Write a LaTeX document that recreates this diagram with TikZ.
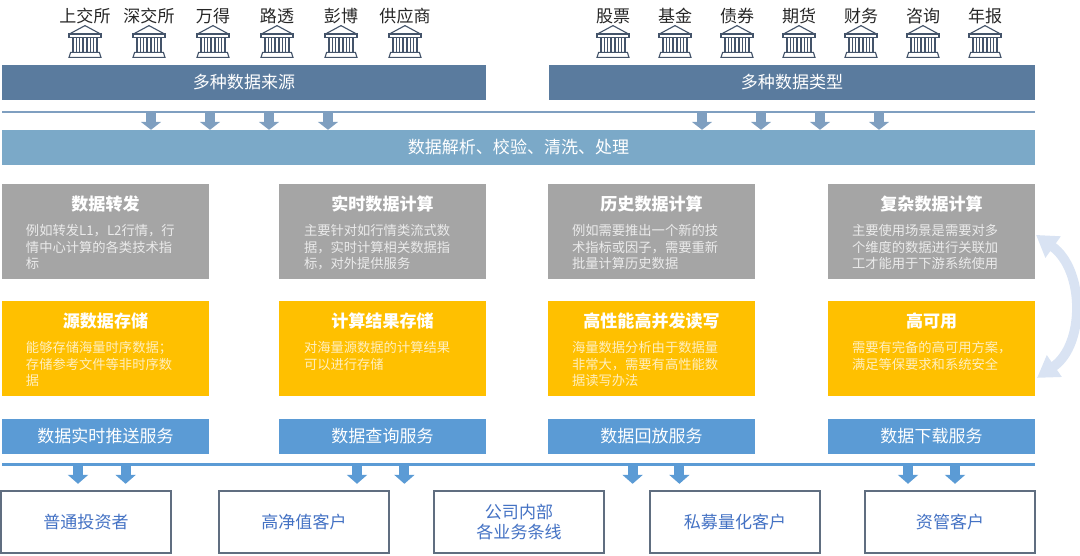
\documentclass[tikz,border=0pt]{standalone}
\usepackage{fontspec}
\setmainfont{Noto Sans CJK SC}
\definecolor{Steel}{HTML}{5A7B9E}
\definecolor{Haze}{HTML}{7BA9C8}
\definecolor{Wire}{HTML}{7F9FC0}
\definecolor{Ash}{HTML}{A5A5A5}
\definecolor{Amber}{HTML}{FFC000}
\definecolor{Azure}{HTML}{5B9BD5}
\definecolor{Mist}{HTML}{D9E3F3}
\definecolor{Ink}{HTML}{44546A}
\definecolor{Royal}{HTML}{4472C4}
\usetikzlibrary{arrows.meta,positioning}

\begin{document}
\begin{tikzpicture}[
  x=1mm,y=1mm,
  every node/.style={inner sep=0pt,outer sep=0pt},
  big/.style={font=\fontsize{12.1pt}{14pt}\selectfont},
  venue/.style={big,text=black!85,minimum width=14mm,text height=3.4mm,text depth=.85mm},
  bar/.style={big,text=white,fill=Steel,minimum height=8.75mm},
  busline/.style={minimum width=258.25mm,minimum height=.65mm},
  band/.style={big,text=white,fill=Haze,minimum width=258.25mm,minimum height=8.75mm},
  ashbox/.style={fill=Ash,minimum width=51.75mm,minimum height=23.75mm},
  amberbox/.style={fill=Amber,minimum width=51.75mm,minimum height=23.75mm},
  service/.style={big,text=white,fill=Azure,minimum width=51.75mm,minimum height=8.75mm},
  client/.style={big,text=Royal,draw=Ink!85,line width=.35mm,fill=white,minimum width=42.5mm,
    minimum height=15.5mm,align=center},
  boxhead/.style={big,font=\fontsize{12.1pt}{14pt}\selectfont\bfseries,text=white,text height=3.4mm,text depth=.85mm},
  boxtext/.style={font=\fontsize{9.45pt}{11.74pt}\selectfont,align=left},
  ashtext/.style={boxtext,text=white!78!Ash},
  ambertext/.style={boxtext,text=white!75!Amber},
  wirearrow/.style={-{Triangle[width=5mm,length=2mm]},line width=2.5mm,draw=Wire},
  azurearrow/.style={-{Triangle[width=5mm,length=2.25mm]},line width=2.5mm,draw=Azure,shorten >=1.75mm},
  swing/.style={{Triangle[width=6.25mm,length=5.25mm]}-{Triangle[width=6.25mm,length=5.25mm]},line width=2.4mm,draw=Mist},
  bank/.pic={
    \begin{scope}[draw=Ink,line width=.28mm]
    \draw (-3.9,-2.1) -- (0,0) -- (3.9,-2.1);
    \draw (-4,-2.1) rectangle (4,-2.9);
    \draw (-3,-2.9) rectangle (-2.2,-6.7);
    \draw (-1.3,-2.9) rectangle (-.5,-6.7);
    \draw (.5,-2.9) rectangle (1.3,-6.7);
    \draw (2.2,-2.9) rectangle (3,-6.7);
    \draw (-3.6,-6.7) -- (-4,-7.95) -- (4,-7.95) -- (3.6,-6.7) -- cycle;
    \end{scope}
  }
]
\useasboundingbox (0,0) rectangle (270,-138.75);

\node[bar,minimum width=121mm,anchor=north west] (srcbar) at (.5,-16.25) {多种数据来源};
\node[bar,minimum width=121.5mm,right=15.75mm of srcbar] (typebar) {多种数据类型};

% venues above the two bars
\node[venue,above right=9.85mm and 13.75mm of srcbar.north west] (sse) {上交所};
\node[venue,right=2mm of sse] (szse) {深交所};
\node[venue,right=2mm of szse] (wind) {万得};
\node[venue,right=2mm of wind] (reuters) {路透};
\node[venue,right=2mm of reuters] (bloomberg) {彭博};
\node[venue,right=2mm of bloomberg] (vendor) {供应商};
\node[venue,above right=9.85mm and 9mm of typebar.north west] (stock) {股票};
\node[venue,right=1.5mm of stock] (fund) {基金};
\node[venue,right=1.5mm of fund] (bond) {债券};
\node[venue,right=1.5mm of bond] (future) {期货};
\node[venue,right=1.5mm of future] (finance) {财务};
\node[venue,right=1.5mm of finance] (news) {咨询};
\node[venue,right=1.5mm of news] (report) {年报};

\pic at (sse.south) {bank};
\pic at (szse.south) {bank};
\pic at (wind.south) {bank};
\pic at (reuters.south) {bank};
\pic at (bloomberg.south) {bank};
\pic at (vendor.south) {bank};
\pic at (stock.south) {bank};
\pic at (fund.south) {bank};
\pic at (bond.south) {bank};
\pic at (future.south) {bank};
\pic at (finance.south) {bank};
\pic at (news.south) {bank};
\pic at (report.south) {bank};

\node[busline,fill=Wire,below right=2.7mm and 0mm of srcbar.south west] (srcbus) {};
\node[band,below=4.1mm of srcbus] (clean) {数据解析、校验、清洗、处理};

% compute row
\node[ashbox,below right=4.75mm and 0mm of clean.south west] (fwd) {};
\node[ashbox,right=17.5mm of fwd] (rtcalc) {};
\node[ashbox,right=15.5mm of rtcalc] (histcalc) {};
\node[ashbox,right=18.25mm of histcalc] (cplxcalc) {};

% storage row
\node[amberbox,below=5.5mm of fwd] (srcstore) {};
\node[amberbox,below=5.5mm of rtcalc] (resstore) {};
\node[amberbox,below=5.5mm of histcalc] (rwstore) {};
\node[amberbox,below=5.5mm of cplxcalc] (hastore) {};

\node[boxhead,below=3.2mm of fwd.north] (fwdhead) {数据转发};
\node[boxhead,below=3.2mm of rtcalc.north] (rthead) {实时数据计算};
\node[boxhead,below=3.2mm of histcalc.north] (histhead) {历史数据计算};
\node[boxhead,below=3.2mm of cplxcalc.north] (cplxhead) {复杂数据计算};
\node[boxhead,below=3.2mm of srcstore.north] (srchead) {源数据存储};
\node[boxhead,below=3.2mm of resstore.north] (reshead) {计算结果存储};
\node[boxhead,below=3.2mm of rwstore.north] (rwhead) {高性能高并发读写};
\node[boxhead,below=3.2mm of hastore.north] (hahead) {高可用};

\node[ashtext,below right=10.15mm and 6mm of fwd.north west] (fwdtext) {例如转发L1，L2行情，行\\情中心计算的各类技术指\\标};
\node[ashtext,below right=10.15mm and 6.25mm of rtcalc.north west] (rttext) {主要针对如行情类流式数\\据，实时计算相关数据指\\标，对外提供服务};
\node[ashtext,below right=10.15mm and 6mm of histcalc.north west] (histtext) {例如需要推出一个新的技\\术指标或因子，需要重新\\批量计算历史数据};
\node[ashtext,below right=10.15mm and 6mm of cplxcalc.north west] (cplxtext) {主要使用场景是需要对多\\个维度的数据进行关联加\\工才能用于下游系统使用};
\node[ambertext,below right=10.15mm and 6mm of srcstore.north west] (srctext) {能够存储海量时序数据；\\存储参考文件等非时序数\\据};
\node[ambertext,below right=10.15mm and 6.25mm of resstore.north west] (restext) {对海量源数据的计算结果\\可以进行存储};
\node[ambertext,below right=10.15mm and 6mm of rwstore.north west] (rwtext) {海量数据分析由于数据量\\非常大，需要有高性能数\\据读写办法};
\node[ambertext,below right=10.15mm and 6mm of hastore.north west] (hatext) {需要有完备的高可用方案，\\满足等保要求和系统安全};

% services and clients
\node[service,below=5.75mm of srcstore] (pushsvc) {数据实时推送服务};
\node[service,below=5.75mm of resstore] (querysvc) {数据查询服务};
\node[service,below=5.75mm of rwstore] (replaysvc) {数据回放服务};
\node[service,below=5.75mm of hastore] (downsvc) {数据下载服务};
\node[busline,fill=Azure,minimum height=.75mm,below right=2.4mm and 0mm of pushsvc.south west] (svcbus) {};

\node[client,below right=6.1mm and -.25mm of svcbus.south west] (retail) {普通投资者};
\node[client,right=12mm of retail] (hnw) {高净值客户};
\node[client,right=11.25mm of hnw] (internal) {公司内部\\各业务条线};
\node[client,right=11.5mm of internal] (quant) {私募量化客户};
\node[client,right=11.25mm of quant] (asset) {资管客户};

\draw[wirearrow] ([xshift=37.25mm]srcbus.south west) -- ([xshift=37.25mm]srcbus.south west |- clean.north);
\draw[wirearrow] ([xshift=52mm]srcbus.south west) -- ([xshift=52mm]srcbus.south west |- clean.north);
\draw[wirearrow] ([xshift=66.75mm]srcbus.south west) -- ([xshift=66.75mm]srcbus.south west |- clean.north);
\draw[wirearrow] ([xshift=81.5mm]srcbus.south west) -- ([xshift=81.5mm]srcbus.south west |- clean.north);
\draw[wirearrow] ([xshift=175mm]srcbus.south west) -- ([xshift=175mm]srcbus.south west |- clean.north);
\draw[wirearrow] ([xshift=189.75mm]srcbus.south west) -- ([xshift=189.75mm]srcbus.south west |- clean.north);
\draw[wirearrow] ([xshift=204.5mm]srcbus.south west) -- ([xshift=204.5mm]srcbus.south west |- clean.north);
\draw[wirearrow] ([xshift=219.25mm]srcbus.south west) -- ([xshift=219.25mm]srcbus.south west |- clean.north);

\draw[azurearrow] ([xshift=19mm]svcbus.south west) -- ([xshift=19mm]svcbus.south west |- retail.north);
\draw[azurearrow] ([xshift=30.9mm]svcbus.south west) -- ([xshift=30.9mm]svcbus.south west |- retail.north);
\draw[azurearrow] ([xshift=88.75mm]svcbus.south west) -- ([xshift=88.75mm]svcbus.south west |- hnw.north);
\draw[azurearrow] ([xshift=100.6mm]svcbus.south west) -- ([xshift=100.6mm]svcbus.south west |- hnw.north);
\draw[azurearrow] ([xshift=157.65mm]svcbus.south west) -- ([xshift=157.65mm]svcbus.south west |- quant.north);
\draw[azurearrow] ([xshift=169.35mm]svcbus.south west) -- ([xshift=169.35mm]svcbus.south west |- quant.north);
\draw[azurearrow] ([xshift=226.5mm]svcbus.south west) -- ([xshift=226.5mm]svcbus.south west |- asset.north);
\draw[azurearrow] ([xshift=238.25mm]svcbus.south west) -- ([xshift=238.25mm]svcbus.south west |- asset.north);

\coordinate (swingtop) at ([shift={(.25mm,-.9mm)}]cplxcalc.east);
\coordinate (swingbot) at ([shift={(.5mm,-7.4mm)}]hastore.east);
\draw[swing] (swingtop) .. controls +(12.25,-8.75) and +(12,8.25) .. (swingbot);
\end{tikzpicture}
\end{document}
